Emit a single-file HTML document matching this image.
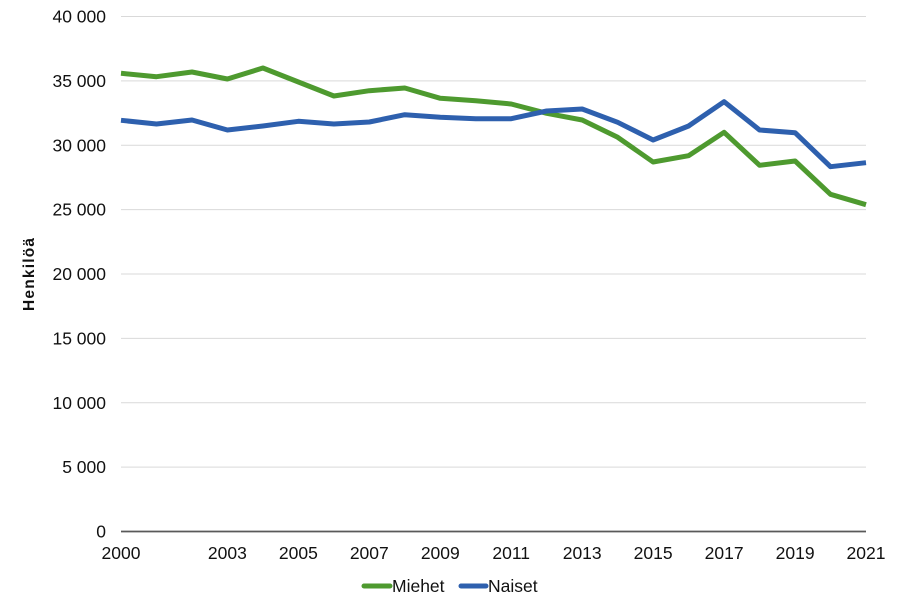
<!DOCTYPE html>
<html><head><meta charset="utf-8"><style>
html,body{margin:0;padding:0;background:#fff;}
svg{display:block;font-family:"Liberation Sans",Arial,sans-serif;}
</style></head><body>
<svg width="900" height="607" viewBox="0 0 900 607" xmlns="http://www.w3.org/2000/svg">
<g stroke="#d9d9d9" stroke-width="1">
<line x1="121" y1="16.5" x2="866" y2="16.5"/>
<line x1="121" y1="80.9" x2="866" y2="80.9"/>
<line x1="121" y1="145.3" x2="866" y2="145.3"/>
<line x1="121" y1="209.6" x2="866" y2="209.6"/>
<line x1="121" y1="274" x2="866" y2="274"/>
<line x1="121" y1="338.4" x2="866" y2="338.4"/>
<line x1="121" y1="402.8" x2="866" y2="402.8"/>
<line x1="121" y1="467.1" x2="866" y2="467.1"/>
</g>
<line x1="121" y1="531.5" x2="866" y2="531.5" stroke="#595959" stroke-width="1.8"/>
<g font-size="17.5" fill="#111" text-anchor="end">
<text x="106" y="22.5">40 000</text>
<text x="106" y="86.9">35 000</text>
<text x="106" y="151.3">30 000</text>
<text x="106" y="215.6">25 000</text>
<text x="106" y="280">20 000</text>
<text x="106" y="344.4">15 000</text>
<text x="106" y="408.8">10 000</text>
<text x="106" y="473.1">5 000</text>
<text x="106" y="537.5">0</text>
</g>
<g font-size="17.5" fill="#111" text-anchor="middle">
<text x="121" y="559">2000</text>
<text x="227.4" y="559">2003</text>
<text x="298.4" y="559">2005</text>
<text x="369.3" y="559">2007</text>
<text x="440.3" y="559">2009</text>
<text x="511.2" y="559">2011</text>
<text x="582.2" y="559">2013</text>
<text x="653.1" y="559">2015</text>
<text x="724.1" y="559">2017</text>
<text x="795.1" y="559">2019</text>
<text x="866" y="559">2021</text>
</g>
<text x="-311" y="34" transform="rotate(-90)" font-size="15.5" font-weight="bold" fill="#111" textLength="73" lengthAdjust="spacing">Henkilöä</text>
<polyline fill="none" stroke="#4e9a2f" stroke-width="5" stroke-linejoin="round" points="121,73.3 156.5,76.7 192,72 227.4,79 262.9,68 298.4,82 333.9,96 369.3,90.7 404.8,88 440.3,98.3 475.8,100.7 511.2,104 546.7,113.3 582.2,120 617.7,137.3 653.1,162 688.6,155.7 724.1,132.3 759.6,165.3 795.1,161 830.5,194.3 866,204.7"/>
<polyline fill="none" stroke="#2e60ae" stroke-width="5" stroke-linejoin="round" points="121,120.3 156.5,124 192,120 227.4,130 262.9,126 298.4,121.3 333.9,124 369.3,122 404.8,114.7 440.3,117.3 475.8,118.7 511.2,118.7 546.7,111 582.2,109 617.7,122.3 653.1,140 688.6,126 724.1,101.7 759.6,130 795.1,132.7 830.5,166.7 866,162.7"/>
<line x1="364" y1="586" x2="390" y2="586" stroke="#4e9a2f" stroke-width="5" stroke-linecap="round"/>
<text x="392" y="592" font-size="17.5" fill="#111">Miehet</text>
<line x1="461" y1="586" x2="486" y2="586" stroke="#2e60ae" stroke-width="5" stroke-linecap="round"/>
<text x="488" y="592" font-size="17.5" fill="#111">Naiset</text>
</svg>
</body></html>
